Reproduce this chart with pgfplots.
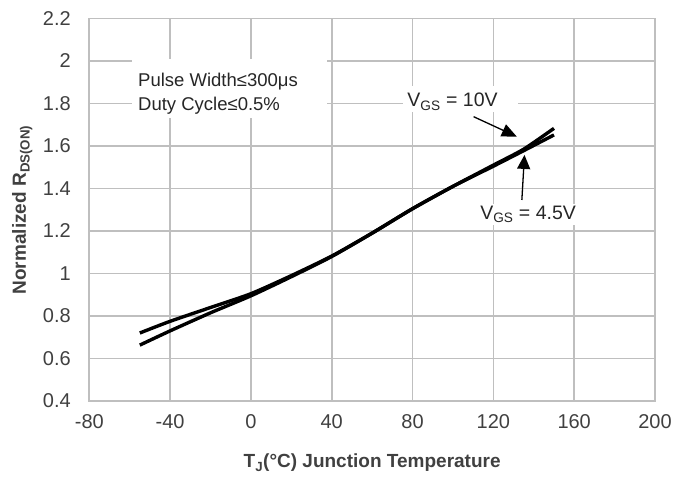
\documentclass[border=0pt]{standalone}
\usepackage{pgfplots}
\pgfplotsset{compat=1.18}
\usepackage{fontspec}
\setmainfont{Liberation Sans}
\usetikzlibrary{arrows.meta}
\definecolor{gridgray}{HTML}{BFBFBF}
\definecolor{txtgray}{HTML}{404040}
\begin{document}
\begin{tikzpicture}[x=1pt,y=1pt]
\useasboundingbox (0,0) rectangle (689,485);
\begin{axis}[
  at={(89.3pt,84pt)}, anchor=south west,
  scale only axis, width=565.7pt, height=382.5pt,
  xmin=-80, xmax=200, ymin=0.4, ymax=2.2,
  xtick={-80,-40,0,40,80,120,160,200},
  ytick={0.4,0.6,0.8,1,1.2,1.4,1.6,1.8,2,2.2},
  yticklabels={0.4,0.6,0.8,1,1.2,1.4,1.6,1.8,2,2.2},
  grid=major,
  grid style={color=gridgray, line width=1.7pt},
  axis line style={color=gridgray, line width=1.7pt},
  major tick length=0pt,
  tick style={draw=none},
  /pgf/number format/assume math mode=true,
  tick label style={font=\fontsize{20}{24}\selectfont, text=txtgray},
  xticklabel style={yshift=-10pt},
  yticklabel style={xshift=-15pt},
  xlabel={T\textsubscript{J}(\textdegree C) Junction Temperature},
  ylabel={Normalized R\textsubscript{DS(ON)}},
  label style={font=\bfseries\fontsize{19}{23}\selectfont, text=txtgray},
  xlabel style={at={(axis description cs:0.5,0)}, anchor=center, yshift=-62pt},
  ylabel style={at={(axis description cs:0,0.5)}, anchor=center, rotate=0, yshift=67pt},
  clip=false,
]
% Line A (steeper)
\addplot[black, line width=3.4pt, line join=round, line cap=butt, smooth, tension=0.4] coordinates {
(-55,0.663) (-40,0.73) (-20,0.815) (0,0.895) (20,0.985) (40,1.08) (60,1.19) (80,1.305) (100,1.41) (120,1.51) (135,1.585) (150,1.683)
};
% Line B
\addplot[black, line width=3.4pt, line join=round, line cap=butt, smooth, tension=0.4] coordinates {
(-55,0.72) (-40,0.775) (-20,0.84) (0,0.905) (20,0.99) (40,1.082) (60,1.19) (80,1.305) (100,1.41) (120,1.505) (135,1.578) (150,1.652)
};
% annotation box
\fill[white] (axis cs:-58.9,2.009) rectangle (axis cs:37.7,1.732);
\node[anchor=base west, inner sep=0pt, font=\fontsize{18.5}{22}\selectfont, text=black!85] at (axis cs:-55.9,1.878) {Pulse Width≤300μs};
\node[anchor=base west, inner sep=0pt, font=\fontsize{18.5}{22}\selectfont, text=black!85] at (axis cs:-55.9,1.769) {Duty Cycle≤0.5\%};
% VGS labels
\fill[white] (axis cs:75.3,1.882) rectangle (axis cs:132.2,1.760);
\node[anchor=base, inner sep=0pt, font=\fontsize{19.5}{23}\selectfont, text=black!85] at (axis cs:99.8,1.784) {V\textsubscript{GS} = 10V};
\node[anchor=base, inner sep=2pt, fill=white, font=\fontsize{19.5}{23}\selectfont, text=black!85] at (axis cs:137.2,1.255) {V\textsubscript{GS} = 4.5V};
\draw[line width=1.3pt, -{Triangle[length=15pt,width=13pt]}] (axis cs:110.2,1.738) -- (axis cs:131.6,1.644);
\draw[line width=1.3pt, -{Triangle[length=14pt,width=13pt]}] (axis cs:134.1,1.346) -- (axis cs:135.4,1.558);
\end{axis}
\end{tikzpicture}
\end{document}
